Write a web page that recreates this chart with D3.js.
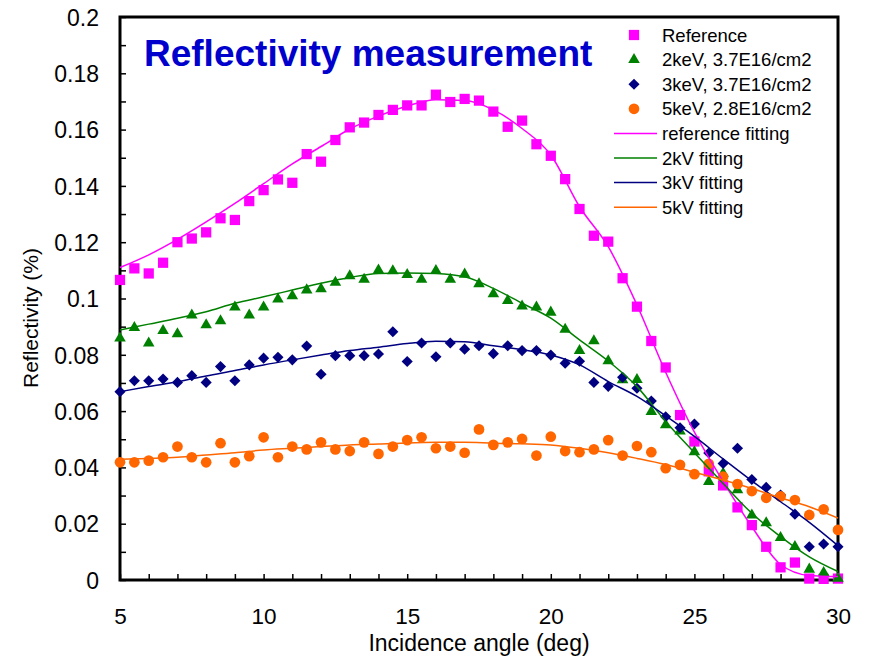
<!DOCTYPE html>
<html>
<head>
<meta charset="utf-8">
<script src="https://cdn.jsdelivr.net/npm/d3@7"></script>
<style>
  html, body { margin: 0; padding: 0; background: #fff; }
  text { font-family: "Liberation Sans", Arial, sans-serif; }
</style>
</head>
<body>
<div id="chart"></div>
<script>
// --- DATA ---
const angles = [5, 5.5, 6, 6.5, 7, 7.5, 8, 8.5, 9, 9.5, 10, 10.5, 11, 11.5, 12, 12.5, 13, 13.5, 14, 14.5,
    15, 15.5, 16, 16.5, 17, 17.5, 18, 18.5, 19, 19.5, 20, 20.5, 21, 21.5, 22, 22.5, 23, 23.5, 24, 24.5,
    25, 25.5, 26, 26.5, 27, 27.5, 28, 28.5, 29, 29.5, 30];

const referenceValues = [0.1066, 0.1107, 0.1089, 0.1127, 0.1200, 0.1213, 0.1235, 0.1285, 0.1279, 0.1346,
    0.1385, 0.1423, 0.1411, 0.1513, 0.1486, 0.1563, 0.1608, 0.1625, 0.1652, 0.1670,
    0.1686, 0.1686, 0.1724, 0.1698, 0.1709, 0.1703, 0.1664, 0.1610, 0.1632, 0.1548,
    0.1507, 0.1424, 0.1318, 0.1223, 0.1202, 0.1072, 0.0971, 0.0849, 0.0755, 0.0586,
    0.0492, 0.0386, 0.0336, 0.0258, 0.0195, 0.0118, 0.0045, 0.0062, 0.0005, 0.0004, 0.0005];

const kev2Values = [0.0859, 0.0896, 0.0841, 0.0886, 0.0874, 0.0941, 0.0906, 0.0920, 0.0969, 0.0941,
    0.0969, 0.0998, 0.1009, 0.1030, 0.1034, 0.1057, 0.1080, 0.1068, 0.1101, 0.1098,
    0.1085, 0.1068, 0.1099, 0.1068, 0.1086, 0.1052, 0.1016, 0.0992, 0.0973, 0.0969,
    0.0951, 0.0890, 0.0815, 0.0849, 0.0778, 0.0711, 0.0712, 0.0598, 0.0551, 0.0529,
    0.0455, 0.0349, 0.0379, 0.0320, 0.0230, 0.0203, 0.0150, 0.0118, 0.0038, 0.0026, 0.0006];

const kev3Values = [0.0669, 0.0708, 0.0708, 0.0714, 0.0702, 0.0726, 0.0702, 0.0758, 0.0708, 0.0764,
    0.0788, 0.0791, 0.0782, 0.0831, 0.0731, 0.0797, 0.0797, 0.0797, 0.0803, 0.0882,
    0.0776, 0.0842, 0.0793, 0.0842, 0.0820, 0.0832, 0.0804, 0.0832, 0.0815, 0.0815,
    0.0799, 0.0770, 0.0777, 0.0702, 0.0688, 0.0720, 0.0681, 0.0636, 0.0580, 0.0541,
    0.0554, 0.0451, 0.0414, 0.0468, 0.0357, 0.0329, 0.0302, 0.0234, 0.0118, 0.0128, 0.0118];

const kev5Values = [0.0418, 0.0418, 0.0424, 0.0436, 0.0474, 0.0436, 0.0418, 0.0486, 0.0418, 0.0440,
    0.0507, 0.0436, 0.0474, 0.0464, 0.0489, 0.0464, 0.0458, 0.0489, 0.0448, 0.0474,
    0.0497, 0.0507, 0.0468, 0.0474, 0.0452, 0.0535, 0.0480, 0.0489, 0.0501, 0.0442,
    0.0509, 0.0458, 0.0454, 0.0464, 0.0497, 0.0442, 0.0476, 0.0454, 0.0397, 0.0409,
    0.0376, 0.0413, 0.0367, 0.0341, 0.0316, 0.0292, 0.0297, 0.0284, 0.0231, 0.0251, 0.0178];

// fitted curves, one value per degree
const fitAngles = [5, 6, 7, 8, 9, 10, 11, 12, 13, 14, 15, 16, 17, 18, 19, 20, 21, 22, 23, 24, 25, 26, 27, 28, 29, 30];

const referenceFit = [0.1110, 0.1155, 0.1210, 0.1272, 0.1338, 0.1408, 0.1478, 0.1540, 0.1602, 0.1648,
    0.1684, 0.1706, 0.1703, 0.1670, 0.1604, 0.1510, 0.1326, 0.1184, 0.0977, 0.0738,
    0.0525, 0.0350, 0.0189, 0.0055, 0.0016, 0.0012];

const kv2Fit = [0.0888, 0.0909, 0.0930, 0.0953, 0.0983, 0.1006, 0.1030, 0.1054, 0.1075, 0.1089,
    0.1091, 0.1089, 0.1077, 0.1036, 0.0983, 0.0930, 0.0853, 0.0778, 0.0687, 0.0563,
    0.0452, 0.0343, 0.0237, 0.0154, 0.0082, 0.0030];

const kv3Fit = [0.0669, 0.0687, 0.0704, 0.0725, 0.0744, 0.0764, 0.0782, 0.0799, 0.0815, 0.0827,
    0.0840, 0.0848, 0.0846, 0.0832, 0.0818, 0.0799, 0.0764, 0.0705, 0.0652, 0.0583,
    0.0510, 0.0430, 0.0352, 0.0278, 0.0205, 0.0122];

const kv5Fit = [0.0429, 0.0432, 0.0436, 0.0444, 0.0452, 0.0462, 0.0468, 0.0474, 0.0480, 0.0483,
    0.0487, 0.0489, 0.0489, 0.0486, 0.0484, 0.0480, 0.0468, 0.0452, 0.0432, 0.0410,
    0.0383, 0.0355, 0.0325, 0.0292, 0.0260, 0.0220];

const xTickLabels = [5, 10, 15, 20, 25, 30];
const yTickLabels = [0, 0.02, 0.04, 0.06, 0.08, 0.1, 0.12, 0.14, 0.16, 0.18, 0.2];

const markerSeries = [
    { name: "Reference", values: referenceValues, color: "#ff00ff", shape: "square" },
    { name: "2keV, 3.7E16/cm2", values: kev2Values, color: "#008000", shape: "triangle" },
    { name: "3keV, 3.7E16/cm2", values: kev3Values, color: "#000080", shape: "diamond" },
    { name: "5keV, 2.8E16/cm2", values: kev5Values, color: "#ff6600", shape: "circle" }
];

const fitSeries = [
    { name: "reference fitting", values: referenceFit, color: "#ff00ff" },
    { name: "2kV fitting", values: kv2Fit, color: "#008000" },
    { name: "3kV fitting", values: kv3Fit, color: "#000080" },
    { name: "5kV fitting", values: kv5Fit, color: "#ff6600" }
];

// --- SETUP ---
const width = 869, height = 661;
const margin = { top: 17, right: 31, bottom: 81, left: 120 };

const svg = d3.select("#chart").append("svg")
    .attr("width", width)
    .attr("height", height);

const x = d3.scaleLinear().domain([5, 30]).range([margin.left, width - margin.right]);
const y = d3.scaleLinear().domain([0, 0.2]).range([height - margin.bottom, margin.top]);

// --- AXES ---
const xAxis = d3.axisBottom(x)
    .tickValues(d3.range(5, 30.01, 1))
    .tickSizeInner(-6)
    .tickSizeOuter(0)
    .tickFormat(d => xTickLabels.includes(d) ? d : "");

const yAxis = d3.axisLeft(y)
    .tickValues(d3.range(0, 0.2001, 0.01))
    .tickSizeInner(-6)
    .tickSizeOuter(0)
    .tickFormat(d => {
        const hit = yTickLabels.find(v => Math.abs(v - d) < 1e-6);
        return hit === undefined ? "" : String(hit);
    });

const gx = svg.append("g")
    .attr("transform", `translate(0,${y(0)})`)
    .call(xAxis);
gx.select(".domain").remove();
gx.selectAll(".tick line").attr("stroke", "#000").attr("stroke-width", 1.5);
gx.selectAll(".tick text")
    .attr("y", 44)
    .attr("dy", 0)
    .attr("font-size", 22.5)
    .attr("font-family", "Liberation Sans, Arial, sans-serif")
    .attr("fill", "#000");

const gy = svg.append("g")
    .attr("transform", `translate(${x(5)},0)`)
    .call(yAxis);
gy.select(".domain").remove();
gy.selectAll(".tick line").attr("stroke", "#000").attr("stroke-width", 1.5);
gy.selectAll(".tick text")
    .attr("x", -21)
    .attr("dy", "0.36em")
    .attr("font-size", 23)
    .attr("font-family", "Liberation Sans, Arial, sans-serif")
    .attr("fill", "#000");

// plot frame
svg.append("rect")
    .attr("x", x(5))
    .attr("y", y(0.2))
    .attr("width", x(30) - x(5))
    .attr("height", y(0) - y(0.2))
    .attr("fill", "none")
    .attr("stroke", "#000")
    .attr("stroke-width", 3);

// axis titles
svg.append("text")
    .attr("x", (x(5) + x(30)) / 2)
    .attr("y", 651)
    .attr("text-anchor", "middle")
    .attr("font-size", 23)
    .attr("fill", "#000")
    .text("Incidence angle (deg)");

svg.append("text")
    .attr("transform", `translate(38,${318}) rotate(-90)`)
    .attr("text-anchor", "middle")
    .attr("font-size", 21)
    .attr("fill", "#000")
    .text("Reflectivity (%)");

// chart title
svg.append("text")
    .attr("x", 144)
    .attr("y", 66)
    .attr("font-size", 37)
    .attr("font-weight", "bold")
    .attr("fill", "#0000cc")
    .text("Reflectivity measurement");

// --- MARKERS ---
const symbolPath = {
    square: d3.symbol().type(d3.symbolSquare).size(105)(),
    triangle: d3.symbol().type(d3.symbolTriangle).size(58)(),
    diamond: d3.symbol().type(d3.symbolSquare).size(62)(),
    circle: d3.symbol().type(d3.symbolCircle).size(90)()
};

const markerLayer = svg.append("g");
markerSeries.forEach(s => {
    markerLayer.append("g")
        .selectAll("path")
        .data(angles.map((a, i) => ({ a, v: s.values[i] })))
        .join("path")
        .attr("d", symbolPath[s.shape])
        .attr("transform", d => `translate(${x(d.a)},${y(d.v)})` + (s.shape === "diamond" ? " rotate(45)" : ""))
        .attr("fill", s.color);
});

// --- FIT LINES ---
const line = d3.line()
    .x(d => x(d.a))
    .y(d => y(d.v))
    .curve(d3.curveMonotoneX);

svg.append("g")
    .selectAll("path")
    .data(fitSeries)
    .join("path")
    .attr("d", s => line(fitAngles.map((a, i) => ({ a, v: s.values[i] }))))
    .attr("fill", "none")
    .attr("stroke", s => s.color)
    .attr("stroke-width", 1.5);

// --- LEGEND ---
const legend = svg.append("g");
const rowY = i => 35 + i * 24.6;

markerSeries.forEach((s, i) => {
    legend.append("path")
        .attr("d", symbolPath[s.shape])
        .attr("transform", `translate(634,${rowY(i)})` + (s.shape === "diamond" ? " rotate(45)" : ""))
        .attr("fill", s.color);
    legend.append("text")
        .attr("x", 662)
        .attr("y", rowY(i))
        .attr("dy", "0.36em")
        .attr("font-size", 18.5)
        .attr("fill", "#000")
        .text(s.name);
});

fitSeries.forEach((s, j) => {
    const i = j + markerSeries.length;
    legend.append("line")
        .attr("x1", 614).attr("x2", 657)
        .attr("y1", rowY(i)).attr("y2", rowY(i))
        .attr("stroke", s.color)
        .attr("stroke-width", 1.5);
    legend.append("text")
        .attr("x", 662)
        .attr("y", rowY(i))
        .attr("dy", "0.36em")
        .attr("font-size", 18.5)
        .attr("fill", "#000")
        .text(s.name);
});
</script>
</body>
</html>
